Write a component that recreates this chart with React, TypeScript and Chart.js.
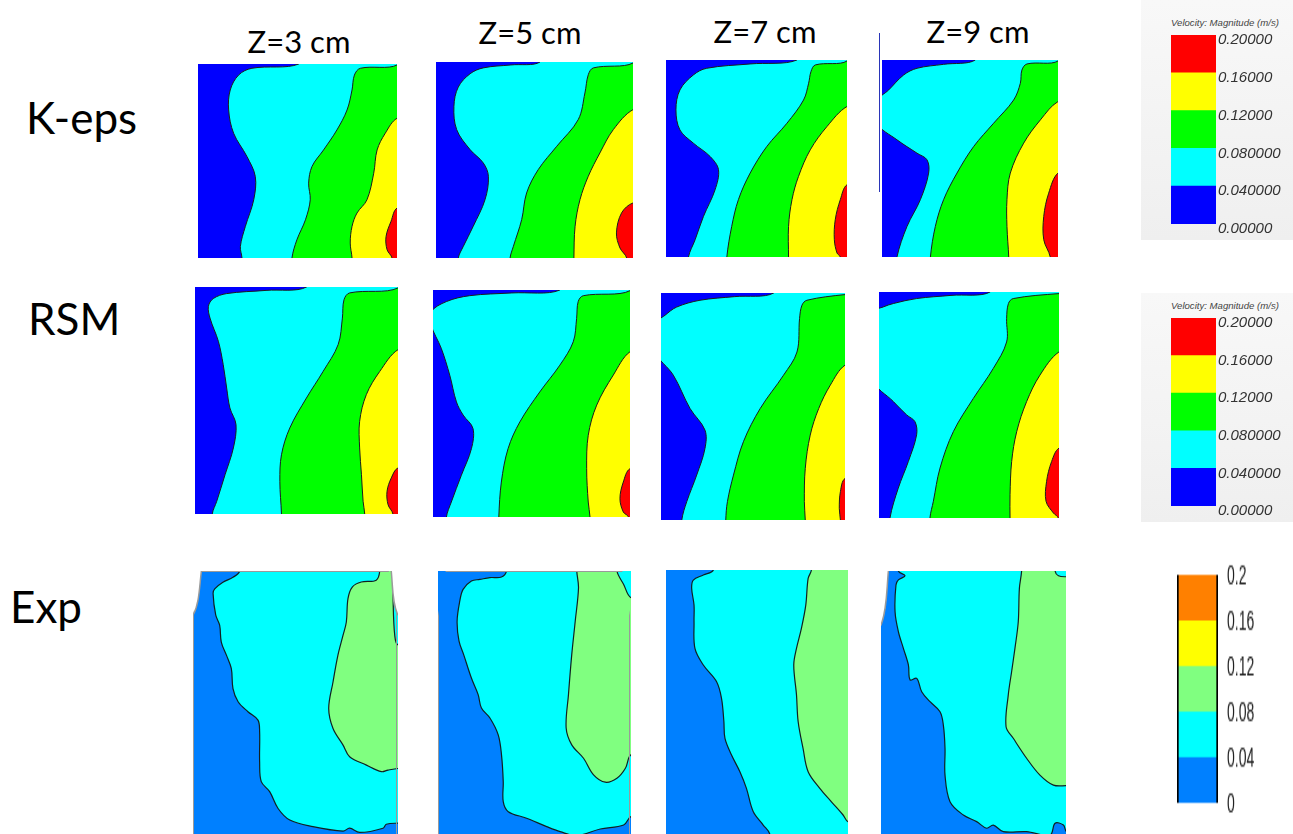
import React, { useEffect, useRef } from "react";
import { Chart, registerables } from "chart.js";

Chart.register(...registerables);

type Pt = [number, number];

// ---------- text ----------
const ROW_LABELS = ["K-eps", "RSM", "Exp"];
const Z_LABELS = ["Z=3 cm", "Z=5 cm", "Z=7 cm", "Z=9 cm"];
const LEGEND_TITLE = "Velocity: Magnitude (m/s)";
const CFD_TICKS = ["0.00000", "0.040000", "0.080000", "0.12000", "0.16000", "0.20000"];
const EXP_TICKS = ["0", "0.04", "0.08", "0.12", "0.16", "0.2"];
const LEVEL_BANDS = [0.04, 0.04, 0.04, 0.04, 0.04];
const LEVEL_MAX = 0.2;
const LEVEL_STEP = 0.04;

// ---------- contour boundaries (panel %: x 0..100 left->right, y 0..100 bottom->top) ----------
// K-eps
const KZ3_B1: Pt[] = [[50.6,100],[27.1,97.8],[20.4,94.3],[16.2,86.6],[15.4,76.3],[17.9,64.3],[24.6,52.3],[28.8,42.0],[28.0,30.0],[23.8,16.3],[21.3,6.0],[22.1,0]];
const KZ3_B2: Pt[] = [[100,99.5],[81.6,97.8],[78.6,94.3],[77.4,86.6],[74.9,76.3],[69.8,66.0],[63.1,55.7],[57.3,47.2],[55.6,38.6],[56.4,30.0],[54.0,19.7],[49.7,9.4],[47.2,0]];
const KZ3_B3: Pt[] = [[100,72],[94.1,64.3],[90,55.7],[88.3,43.7],[84.9,30],[79.9,23.2],[77.4,16.3],[76.5,7.7],[77.4,0]];
const KZ3_B4: Pt[] = [[100,25.7],[97,18.9],[94.5,11.1],[95,4.3],[97.5,0]];

const KZ5_B1: Pt[] = [[52.8,100],[38,98.5],[24,97],[17.3,94],[11.3,87.2],[9.1,77.4],[10.5,65.5],[17.3,55.3],[24,48.5],[26.6,41.7],[24.9,29.8],[18.9,16.2],[13.9,6],[11.3,0]];
const KZ5_B2: Pt[] = [[100,99.5],[79.9,97],[77.3,93.5],[75.6,84.2],[72.2,70.6],[61.3,57],[51.9,45.1],[46,33.2],[43.5,19.6],[39.3,6],[37.6,0]];
const KZ5_B3: Pt[] = [[100,75.7],[90,65.5],[83.2,53.6],[77.3,41.7],[73.1,29.8],[70.6,16.2],[70,0]];
const KZ5_B4: Pt[] = [[100,28.1],[94.2,23],[91.6,12.8],[93.4,5.1],[96.8,0]];

const KZ7_B1: Pt[] = [[72.3,100],[46.5,98],[22.5,95.8],[15.1,92.4],[7.7,84.8],[5.5,74.7],[7.7,64.5],[15.1,57.8],[24.4,51],[29,44.3],[27.1,34.1],[20.7,20.6],[16.1,8.8],[12.4,0]];
const KZ7_B2: Pt[] = [[100,99.5],[82.5,97.5],[80.1,94.1],[78.8,88.2],[76,79.7],[66.8,67.9],[55.7,56.1],[46.5,42.6],[40,29.1],[36.3,15.5],[33.6,0]];
const KZ7_B3: Pt[] = [[100,76.4],[88.9,66.2],[79.7,54.4],[73.2,40.9],[69.6,29.1],[67.7,15.5],[67.7,0]];
const KZ7_B4: Pt[] = [[100,36.7],[96.3,29.1],[93.5,18.9],[93,8.8],[94.5,2],[96.3,0]];

const KZ9_B1: Pt[] = [[53,100],[35,97.8],[19.9,95.8],[12.3,92.4],[3.8,84.8],[-3,79],[-3,68],[8.5,59.5],[19.9,52.7],[25.6,49.3],[26.5,42.6],[21.8,29.1],[14.2,15.5],[8.5,0]];
const KZ9_B2: Pt[] = [[100,99.5],[82.4,98],[79.5,94.9],[78.6,88.2],[74.8,79.7],[63.4,67.9],[52.1,56.1],[42.6,42.6],[35,29.1],[30.3,15.5],[27.5,0]];
const KZ9_B3: Pt[] = [[100,78.9],[90,69.6],[80.5,57.8],[72.9,42.6],[71,29.1],[71,15.5],[72,0]];
const KZ9_B4: Pt[] = [[100,42.6],[94.7,32.4],[91.9,20.6],[91.9,8.8],[95.6,0]];

// RSM
const RZ3_B1: Pt[] = [[54.9,100],[35,98.5],[15.6,97.1],[9,94.9],[6.6,91.5],[7.4,86.3],[11.5,76.1],[13.9,65.8],[15.6,55.5],[17.2,46.7],[20.2,39.4],[18.9,29.1],[14.8,17.3],[10.7,5.6],[8.5,0]];
const RZ3_B2: Pt[] = [[100,99.6],[76.2,97.4],[73.4,94.4],[72.6,86.3],[70.5,74.6],[63.1,62.8],[54.9,51.1],[46.7,37.9],[42.6,26.1],[41.8,14.4],[42.6,0]];
const RZ3_B3: Pt[] = [[100,72.4],[91,62.8],[84.4,52.6],[81.1,40.8],[81.1,29.1],[82,17.3],[82.8,5.6],[83.6,0]];
const RZ3_B4: Pt[] = [[100,20.3],[96.7,15.9],[94.6,10],[95.1,4.1],[97.5,0]];

const RZ5_B1: Pt[] = [[64.4,100],[40,98.7],[18.6,97.5],[6.8,94.9],[-1,90.4],[-1,84.6],[4.2,74.3],[8.5,62.5],[11.9,50.7],[15.3,44.9],[20.3,39],[19.5,30.1],[14.4,18.4],[9.3,6.6],[6.8,0]];
const RZ5_B2: Pt[] = [[100,99.7],[76.3,97.5],[73.7,94.9],[72.9,87.5],[71.2,77.2],[64.4,66.9],[54.2,55.1],[44.1,41.9],[38.1,30.1],[34.7,15.4],[33.4,0]];
const RZ5_B3: Pt[] = [[100,72.8],[91.5,62.5],[83.1,49.3],[78.8,36],[78,21.3],[78.8,6.6],[79.7,0]];
const RZ5_B4: Pt[] = [[100,21.3],[96.6,15.4],[94.9,8.1],[96.6,2.2],[99.2,0]];

const RZ7_B1: Pt[] = [[61.2,100],[40,98.4],[21.2,96.8],[8.5,93.8],[2.2,90.2],[-3,86.5],[-3,74],[6.7,63.8],[15.8,49.1],[23.9,39.6],[23.9,31.5],[19.4,19.8],[14,8.1],[11.3,0]];
const RZ7_B2: Pt[] = [[100,99.3],[79.3,96.8],[76.6,94.6],[75.3,88.7],[73.9,74],[66.6,63.8],[53.9,49.1],[44.8,34.5],[39.4,19.8],[36.1,8.1],[35.2,0]];
const RZ7_B3: Pt[] = [[100,68.2],[92,59.4],[85.7,49.1],[81.1,37.4],[78.4,22.7],[77.9,8.1],[78.4,0]];
const RZ7_B4: Pt[] = [[100,18.3],[97.5,12.5],[96.9,5.1],[97.5,0]];

const RZ9_B1: Pt[] = [[61.7,100],[40,98.5],[20.9,97.1],[8,94.9],[2.4,93.4],[-3,91.2],[-3,61],[8,51.5],[15.4,45.6],[20,42.6],[20.9,36.8],[16.3,25],[10.7,13.2],[6.1,0]];
const RZ9_B2: Pt[] = [[100,99.3],[74.6,97.1],[71.9,94.9],[70.9,88.2],[70.9,77.9],[63.5,66.2],[52.4,52.9],[41.3,38.2],[33.9,22.1],[30.2,7.4],[28.3,0]];
const RZ9_B3: Pt[] = [[100,73.5],[89.4,63.2],[82,51.5],[76.5,38.2],[73.7,25],[72.8,10.3],[72.8,0]];
const RZ9_B4: Pt[] = [[100,30.9],[95.9,25],[93.1,16.2],[92.8,7.4],[96.9,2.2],[99.6,0]];

// Experiment
const EZ3_B1: Pt[] = [[22.8,100],[19.5,97.6],[14.6,95.7],[10.6,93.2],[9.8,91.4],[11.1,83.2],[13,79.4],[13.8,73],[16.3,68],[18.7,62.9],[19.5,55.3],[22,50.3],[26.8,46.5],[31.7,43.3],[32.5,38.9],[32.5,27.5],[33.3,19.9],[37.4,16.1],[41.5,9.7],[47.2,5.3],[58.5,2.8],[73.2,1.1],[76.4,2.2],[81.3,0.6],[92.7,2.2],[94.3,3.7],[100,4.1]];
const EZ3_B2: Pt[] = [[91.1,100],[89.4,96.5],[82.1,95.8],[77.7,93.9],[75.6,89.5],[74.8,80.6],[73.2,75.6],[70.7,68],[68.3,57.8],[66.2,47.7],[68.3,40.1],[73.2,33.8],[76.4,29.4],[84.6,26.2],[91.9,23.7],[95.1,24.3],[100,24.9]];
const EZ3_B3: Pt[] = [[97.6,100],[97.6,89.5],[98.4,75.6],[100,71.9]];
const EZ3_CUT_L: Pt[] = [[4.1,100],[0,83.2]];
const EZ3_CUT_R: Pt[] = [[96.7,100],[100,83.2]];

const EZ5_B1: Pt[] = [[35.5,100],[32.9,97.7],[26.9,97.5],[21.7,96.8],[17.3,96.2],[13,93],[11.3,88.6],[9.9,80.9],[10.9,73.3],[13.3,68.2],[17.3,59.3],[20.8,53],[22.5,47.9],[26.9,44.1],[31.2,37.7],[32.9,30.1],[33.8,19.9],[33.8,12.3],[36.4,8.5],[45.9,6],[56.3,2.8],[63.3,0.9],[71.9,-0.6],[84.1,1.9],[96.2,3.4],[100,6.6]];
const EZ5_B2: Pt[] = [[71.9,100],[72.8,93.6],[71.1,80.9],[69.3,68.2],[67.6,53],[66.4,40.3],[69.3,33.9],[75.4,28.8],[80.6,22.5],[86.7,19.7],[92.7,21.2],[97.1,25],[100,30.1]];
const EZ5_B3: Pt[] = [[92.7,100],[96.2,94.9],[100,89.8]];

const EZ7_B1: Pt[] = [[26,100],[20.5,98.1],[15,96.2],[14.1,93.1],[15.4,86.7],[15.4,80.4],[15.9,70.3],[20.5,64],[27.8,57.7],[30.5,51.4],[31.8,42.6],[32.4,36.2],[36,29.9],[40.6,23.6],[44.2,17.3],[47.9,8.5],[53.4,3.4],[57,0]];
const EZ7_B2: Pt[] = [[79.9,100],[78.1,96.8],[76.8,86.7],[74.4,77.9],[71.7,70.3],[70.2,64],[71.7,52.7],[72.6,42.6],[75.3,32.4],[78.1,23.6],[84.5,17.3],[90.9,12.2],[97.3,7.2],[100,4.7]];

const EZ9_B1: Pt[] = [[9.4,100],[13,98.2],[9.4,96.6],[8.1,94.7],[7.6,84.5],[9.4,76.9],[12.1,70.6],[14.8,64.3],[15.7,58.6],[19.3,59.2],[22,54.1],[26.5,50.3],[31.9,46.5],[33.7,41.4],[34.6,32.6],[34.6,22.4],[37.3,12.3],[44.5,7.2],[51.7,4.7],[57.1,2.2],[60.7,3.4],[66.1,0.9],[78.7,0.9],[91.4,-0.4],[94.1,4.1],[98.6,3.4],[100.4,0.9]];
const EZ9_B2: Pt[] = [[76,100],[74.8,93.4],[74.2,80.7],[72.4,70.6],[70.6,61.7],[68.8,52.9],[67.6,40.8],[71.5,36.4],[78.7,28.8],[85.9,22.4],[93.2,18.6],[100.4,18.4]];
const EZ9_B3: Pt[] = [[94.1,100],[95.9,98.2],[100.4,97.8]];
const EZ9_CUT_L: Pt[] = [[4,100],[0,79.5]];

const FULL_PANEL: Pt[] = [[-2,100],[-2,0]];

// ---------- styles ----------
const C = { blue: "#0000ff", cyan: "#00ffff", green: "#00ff00", yellow: "#ffff00", red: "#ff0000" };
const E = { blue: "#0080ff", cyan: "#00ffff", green: "#80ff80", yellow: "#ffff00", orange: "#ff8000" };
const CFD_LINE = "#1c1c1c";
const EXP_LINE = "#102020";

type Layer = { b: Pt[]; color: string; side?: "right" | "left"; line?: string; lw?: number };

const cfdLayers = (b1: Pt[], b2: Pt[], b3: Pt[], b4: Pt[]): Layer[] => [
  { b: FULL_PANEL, color: C.blue, lw: 0 },
  { b: b1, color: C.cyan, line: CFD_LINE, lw: 1 },
  { b: b2, color: C.green, line: CFD_LINE, lw: 1 },
  { b: b3, color: C.yellow, line: CFD_LINE, lw: 1 },
  { b: b4, color: C.red, line: CFD_LINE, lw: 1 },
];

const PANELS: { box: [number, number, number, number]; layers: Layer[]; frame?: boolean }[] = [
  { box: [198, 64, 199, 194], layers: cfdLayers(KZ3_B1, KZ3_B2, KZ3_B3, KZ3_B4) },
  { box: [436, 62, 197, 196], layers: cfdLayers(KZ5_B1, KZ5_B2, KZ5_B3, KZ5_B4) },
  { box: [666, 60, 181, 197], layers: cfdLayers(KZ7_B1, KZ7_B2, KZ7_B3, KZ7_B4) },
  { box: [882, 60, 176, 197], layers: cfdLayers(KZ9_B1, KZ9_B2, KZ9_B3, KZ9_B4) },
  { box: [195, 287, 203, 227], layers: cfdLayers(RZ3_B1, RZ3_B2, RZ3_B3, RZ3_B4) },
  { box: [433, 290, 197, 227], layers: cfdLayers(RZ5_B1, RZ5_B2, RZ5_B3, RZ5_B4) },
  { box: [661, 293, 184, 227], layers: cfdLayers(RZ7_B1, RZ7_B2, RZ7_B3, RZ7_B4) },
  { box: [879, 292, 180, 226], layers: cfdLayers(RZ9_B1, RZ9_B2, RZ9_B3, RZ9_B4) },
  {
    box: [193, 571, 205, 263],
    frame: true,
    layers: [
      { b: FULL_PANEL, color: E.blue, lw: 0 },
      { b: EZ3_B1, color: E.cyan, line: EXP_LINE, lw: 1.2 },
      { b: EZ3_B2, color: E.green, line: EXP_LINE, lw: 1.2 },
      { b: EZ3_B3, color: E.cyan, line: EXP_LINE, lw: 1.2 },
      { b: EZ3_CUT_L, color: "#ffffff", side: "left", line: "#9a9a9a", lw: 1.5 },
      { b: EZ3_CUT_R, color: "#ffffff", line: "#9a9a9a", lw: 1.5 },
    ],
  },
  {
    box: [438, 571, 193, 263],
    frame: true,
    layers: [
      { b: FULL_PANEL, color: E.blue, lw: 0 },
      { b: EZ5_B1, color: E.cyan, line: EXP_LINE, lw: 1.2 },
      { b: EZ5_B2, color: E.green, line: EXP_LINE, lw: 1.2 },
      { b: EZ5_B3, color: E.cyan, line: EXP_LINE, lw: 1.2 },
    ],
  },
  {
    box: [666, 570, 182, 264],
    layers: [
      { b: FULL_PANEL, color: E.blue, lw: 0 },
      { b: EZ7_B1, color: E.cyan, line: EXP_LINE, lw: 1.2 },
      { b: EZ7_B2, color: E.green, line: EXP_LINE, lw: 1.2 },
    ],
  },
  {
    box: [881, 571, 185, 263],
    layers: [
      { b: FULL_PANEL, color: E.blue, lw: 0 },
      { b: EZ9_B1, color: E.cyan, line: EXP_LINE, lw: 1.2 },
      { b: EZ9_B2, color: E.green, line: EXP_LINE, lw: 1.2 },
      { b: EZ9_B3, color: E.cyan, line: EXP_LINE, lw: 1.2 },
      { b: EZ9_CUT_L, color: "#ffffff", side: "left", line: "#9a9a9a", lw: 1.5 },
    ],
  },
];

function ext(p: Pt): Pt {
  if (p[1] >= 99.5) return [p[0], 108];
  if (p[1] <= 0.5) return [p[0], -8];
  if (p[0] >= 99.5) return [108, p[1]];
  return [-8, p[1]];
}
function regionPts(b: Pt[], side: "right" | "left"): Pt[] {
  const cx = side === "right" ? 125 : -25;
  return [ext(b[0]), ...b, ext(b[b.length - 1]), [cx, -8], [cx, 108]];
}

function ContourPanel({ box, layers, frame }: { box: [number, number, number, number]; layers: Layer[]; frame?: boolean }) {
  const ref = useRef<HTMLCanvasElement>(null);
  useEffect(() => {
    const n = layers.length;
    const chart = new Chart(ref.current!, {
      type: "scatter",
      data: {
        datasets: layers.map((ly, i) => ({
          data: regionPts(ly.b, ly.side || "right").map(([x, y]) => ({ x, y })),
          showLine: true,
          fill: "shape",
          backgroundColor: ly.color,
          borderColor: ly.line || ly.color,
          borderWidth: ly.lw ?? 1,
          pointRadius: 0,
          pointHoverRadius: 0,
          tension: 0.35,
          capBezierPoints: false,
          order: n - i,
        })) as any,
      },
      options: {
        responsive: false,
        animation: false,
        events: [],
        layout: { padding: 0 },
        plugins: { legend: { display: false }, tooltip: { enabled: false }, title: { display: false } },
        scales: {
          x: { type: "linear", min: 0, max: 100, display: false },
          y: { type: "linear", min: 0, max: 100, display: false },
        },
      } as any,
    });
    return () => chart.destroy();
  }, []);
  const [x, y, w, h] = box;
  return (
    <>
      <canvas
        ref={ref}
        width={w}
        height={h}
        style={{ position: "absolute", left: x, top: y, width: w, height: h, display: "block" }}
      />
      {frame && (
        <div
          style={{
            position: "absolute", left: x, top: y, width: w - 1, height: h,
            borderTop: "1px solid #9a9a9a", borderLeft: "1px solid #9a9a9a", borderRight: "1px solid #9a9a9a",
            boxSizing: "border-box", pointerEvents: "none", clipPath: "polygon(4% 0, 96% 0, 100% 17%, 100% 100%, 0 100%, 0 17%)",
          }}
        />
      )}
    </>
  );
}

type BarProps = {
  x: number; y: number; w: number; h: number; axisW: number; pad: number;
  colors: string[]; labels: string[]; font: any; color: string; labelOffset: number; tickPad: number;
  edge?: boolean; scaleY?: number;
};

function ColorBar(p: BarProps) {
  const ref = useRef<HTMLCanvasElement>(null);
  const s = p.scaleY || 1;
  const ih = p.h / s;
  const cw = p.w + p.axisW;
  const ch = Math.round(ih + 2 * p.pad);
  useEffect(() => {
    const chart = new Chart(ref.current!, {
      type: "bar",
      data: {
        labels: [""],
        datasets: LEVEL_BANDS.map((v, i) => ({
          data: [v],
          backgroundColor: p.colors[i],
          borderColor: "#000000",
          borderWidth: p.edge ? { left: 2, right: 2, top: 0, bottom: 0 } : 0,
          borderSkipped: false,
          barPercentage: 1,
          categoryPercentage: 1,
        })),
      },
      options: {
        responsive: false,
        animation: false,
        events: [],
        layout: { padding: { top: p.pad, bottom: p.pad, left: 0, right: 0 } },
        plugins: { legend: { display: false }, tooltip: { enabled: false } },
        scales: {
          x: { stacked: true, display: false },
          y: {
            stacked: true,
            min: 0,
            max: LEVEL_MAX,
            position: "right",
            grid: { display: false, drawTicks: false, tickLength: 0 },
            border: { display: false },
            afterFit: (scale: any) => { scale.width = p.axisW; },
            ticks: {
              stepSize: LEVEL_STEP,
              autoSkip: false,
              padding: p.tickPad,
              labelOffset: p.labelOffset,
              color: p.color,
              font: p.font,
              callback: (_v: any, i: number) => p.labels[i],
            },
          },
        },
      } as any,
    });
    return () => chart.destroy();
  }, []);
  return (
    <canvas
      ref={ref}
      width={cw}
      height={ch}
      style={{
        position: "absolute",
        left: p.x,
        top: p.y - p.pad * s,
        width: cw,
        height: ch,
        display: "block",
        transform: s !== 1 ? `scaleY(${s})` : undefined,
        transformOrigin: "top left",
      }}
    />
  );
}

const TITLE_POS = [
  { cx: 299, top: 26 },
  { cx: 530, top: 17 },
  { cx: 765, top: 16 },
  { cx: 978, top: 16 },
];
const ROW_POS = [
  { left: 26, top: 95 },
  { left: 28, top: 296 },
  { left: 10, top: 584 },
];

export default function App() {
  const cfdColors = [C.blue, C.cyan, C.green, C.yellow, C.red];
  const expColors = [E.blue, E.cyan, E.green, E.yellow, E.orange];
  const legendFont = { family: "'Liberation Sans', Arial, sans-serif", size: 15, style: "italic" };
  return (
    <div
      style={{
        position: "fixed", left: 0, top: 0, width: 1293, height: 834, overflow: "hidden",
        background: "#ffffff", fontFamily: "Lato, 'Open Sans', sans-serif",
      }}
    >
      {Z_LABELS.map((t, i) => (
        <div
          key={t}
          style={{
            position: "absolute", left: TITLE_POS[i].cx - 80, width: 160, top: TITLE_POS[i].top,
            textAlign: "center", fontSize: 31, lineHeight: "31px", color: "#000", whiteSpace: "nowrap",
          }}
        >
          {t}
        </div>
      ))}
      {ROW_LABELS.map((t, i) => (
        <div
          key={t}
          style={{
            position: "absolute", left: ROW_POS[i].left, top: ROW_POS[i].top,
            fontSize: 44, lineHeight: "44px", color: "#000", whiteSpace: "nowrap",
          }}
        >
          {t}
        </div>
      ))}
      <div style={{ position: "absolute", left: 879, top: 33, width: 1, height: 159, background: "#2a35b8" }} />

      {PANELS.map((pnl, i) => (
        <ContourPanel key={i} box={pnl.box} layers={pnl.layers} frame={pnl.frame} />
      ))}

      {[{ top: 0, h: 240, barTop: 35, barH: 189 }, { top: 293, h: 229, barTop: 318, barH: 188 }].map((lg, i) => (
        <React.Fragment key={i}>
          <div
            style={{
              position: "absolute", left: 1141, top: lg.top, width: 152, height: lg.h,
              background: "linear-gradient(#f8f8f8, #efefef)",
            }}
          />
          <div
            style={{
              position: "absolute", left: 1171, top: lg.barTop - 17, fontSize: 9.6, lineHeight: "10px",
              fontStyle: "italic", color: "#444", whiteSpace: "nowrap",
              fontFamily: "'Liberation Sans', Arial, sans-serif",
            }}
          >
            {LEGEND_TITLE}
          </div>
          <ColorBar
            x={1171} y={lg.barTop} w={45} h={lg.barH} axisW={80} pad={14}
            colors={cfdColors} labels={CFD_TICKS} font={legendFont} color="#333333"
            labelOffset={5} tickPad={2}
          />
        </React.Fragment>
      ))}

      <ColorBar
        x={1177} y={575} w={41} h={228} axisW={50} pad={22}
        colors={expColors} labels={EXP_TICKS}
        font={{ family: "'Liberation Sans Narrow', 'Liberation Sans', Arial, sans-serif", size: 14 }}
        color="#222222" labelOffset={1.5} tickPad={9} edge scaleY={1.9}
      />
    </div>
  );
}
